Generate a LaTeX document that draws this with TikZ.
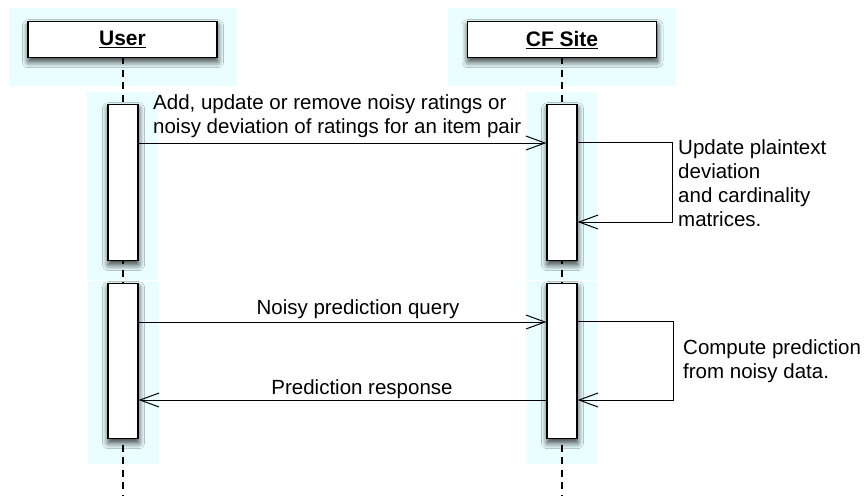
\documentclass[tikz,border=0pt]{standalone}
\usepackage{fontspec}
\setmainfont{Liberation Sans}
\usetikzlibrary{arrows.meta,shadows.blur}
\definecolor{bgcyan}{HTML}{EAFEFF}
\tikzset{
  bgzone/.style={fill=bgcyan, draw=none},
  shadowed/.style={blur shadow={shadow xshift=0.5pt, shadow yshift=-4pt, shadow blur radius=6pt, shadow blur steps=12, shadow opacity=80}},
  titlebox/.style={draw=black, line width=1.3pt, fill=white, shadowed, minimum width=189pt, minimum height=36pt, inner sep=0pt, font=\fontsize{21}{24}\selectfont\bfseries},
  actbox/.style={draw=black, line width=1.3pt, fill=white, shadowed, minimum width=30pt, inner sep=0pt},
  lifeline/.style={draw=black, line width=1.3pt, dash pattern=on 7pt off 5.5pt},
  msg/.style={draw=black, line width=1pt, -{Straight Barb[length=19pt,width=14pt,line width=1pt]}},
  txt/.style={inner sep=0pt, font=\fontsize{20.5}{23.5}\selectfont}
}
\begin{document}
\begin{tikzpicture}[x=1pt,y=-1pt]
\useasboundingbox (0,0) rectangle (866,496);
\fill[white] (0,0) rectangle (866,496);
% background zones
\fill[bgzone] (9,8) rectangle (237,86);
\fill[bgzone] (448,8) rectangle (676,86);
\fill[bgzone] (87,92) rectangle (158,280);
\fill[bgzone] (527,92) rectangle (597,280);
\fill[bgzone] (88,281) rectangle (159,464);
\fill[bgzone] (527,281) rectangle (598,464);
% lifelines
\coordinate (uend) at (123,496);
\coordinate (cend) at (562,496);
\coordinate (utop) at (123,57);
\coordinate (ctop) at (562,57);
\draw[lifeline] (utop) -- (uend);
\draw[lifeline] (ctop) -- (cend);
\node[titlebox, anchor=north] (user) at (122.5,21) {\underline{User}};
\node[titlebox, anchor=north] (cf) at (562,21) {\underline{CF Site}};
% activation boxes
\node[actbox, minimum height=156pt, anchor=north] (u1) at (123,104) {};
\node[actbox, minimum height=156pt, anchor=north] (c1) at (562,104) {};
\node[actbox, minimum height=155pt, anchor=north] (u2) at (123,283) {};
\node[actbox, minimum height=155pt, anchor=north] (c2) at (562,283) {};
% message 1
\draw[msg] (u1.east |- 0,143) -- (c1.west |- 0,143);
\node[txt, anchor=base west] (m1a) at (153,109.5) {Add, update or remove noisy ratings or};
\node[txt, anchor=base west] (m1b) at (153,133) {noisy deviation of ratings for an item pair};
% self message 1
\coordinate (s1a) at (672,142);
\coordinate (s1b) at (672,222);
\draw[msg] (c1.east |- s1a) -- (s1a) -- (s1b) -- (c1.east |- s1b);
\node[txt, anchor=base west] (t1a) at (678,154) {Update plaintext};
\node[txt, anchor=base west] (t1b) at (678,178) {deviation};
\node[txt, anchor=base west] (t1c) at (678,202) {and cardinality};
\node[txt, anchor=base west] (t1d) at (678,226) {matrices.};
% message 2
\draw[msg] (u2.east |- 0,322) -- (c2.west |- 0,322);
\node[txt, anchor=base] (m2) at (358,314) {Noisy prediction query};
% message 3
\draw[msg] (c2.west |- 0,400) -- (u2.east |- 0,400);
\node[txt, anchor=base] (m3) at (362,394) {Prediction response};
% self message 2
\coordinate (s2a) at (673,321);
\coordinate (s2b) at (673,400);
\draw[msg] (c2.east |- s2a) -- (s2a) -- (s2b) -- (c2.east |- s2b);
\node[txt, anchor=base west] (t2a) at (683,354) {Compute prediction};
\node[txt, anchor=base west] (t2b) at (683,378) {from noisy data.};
\end{tikzpicture}
\end{document}
